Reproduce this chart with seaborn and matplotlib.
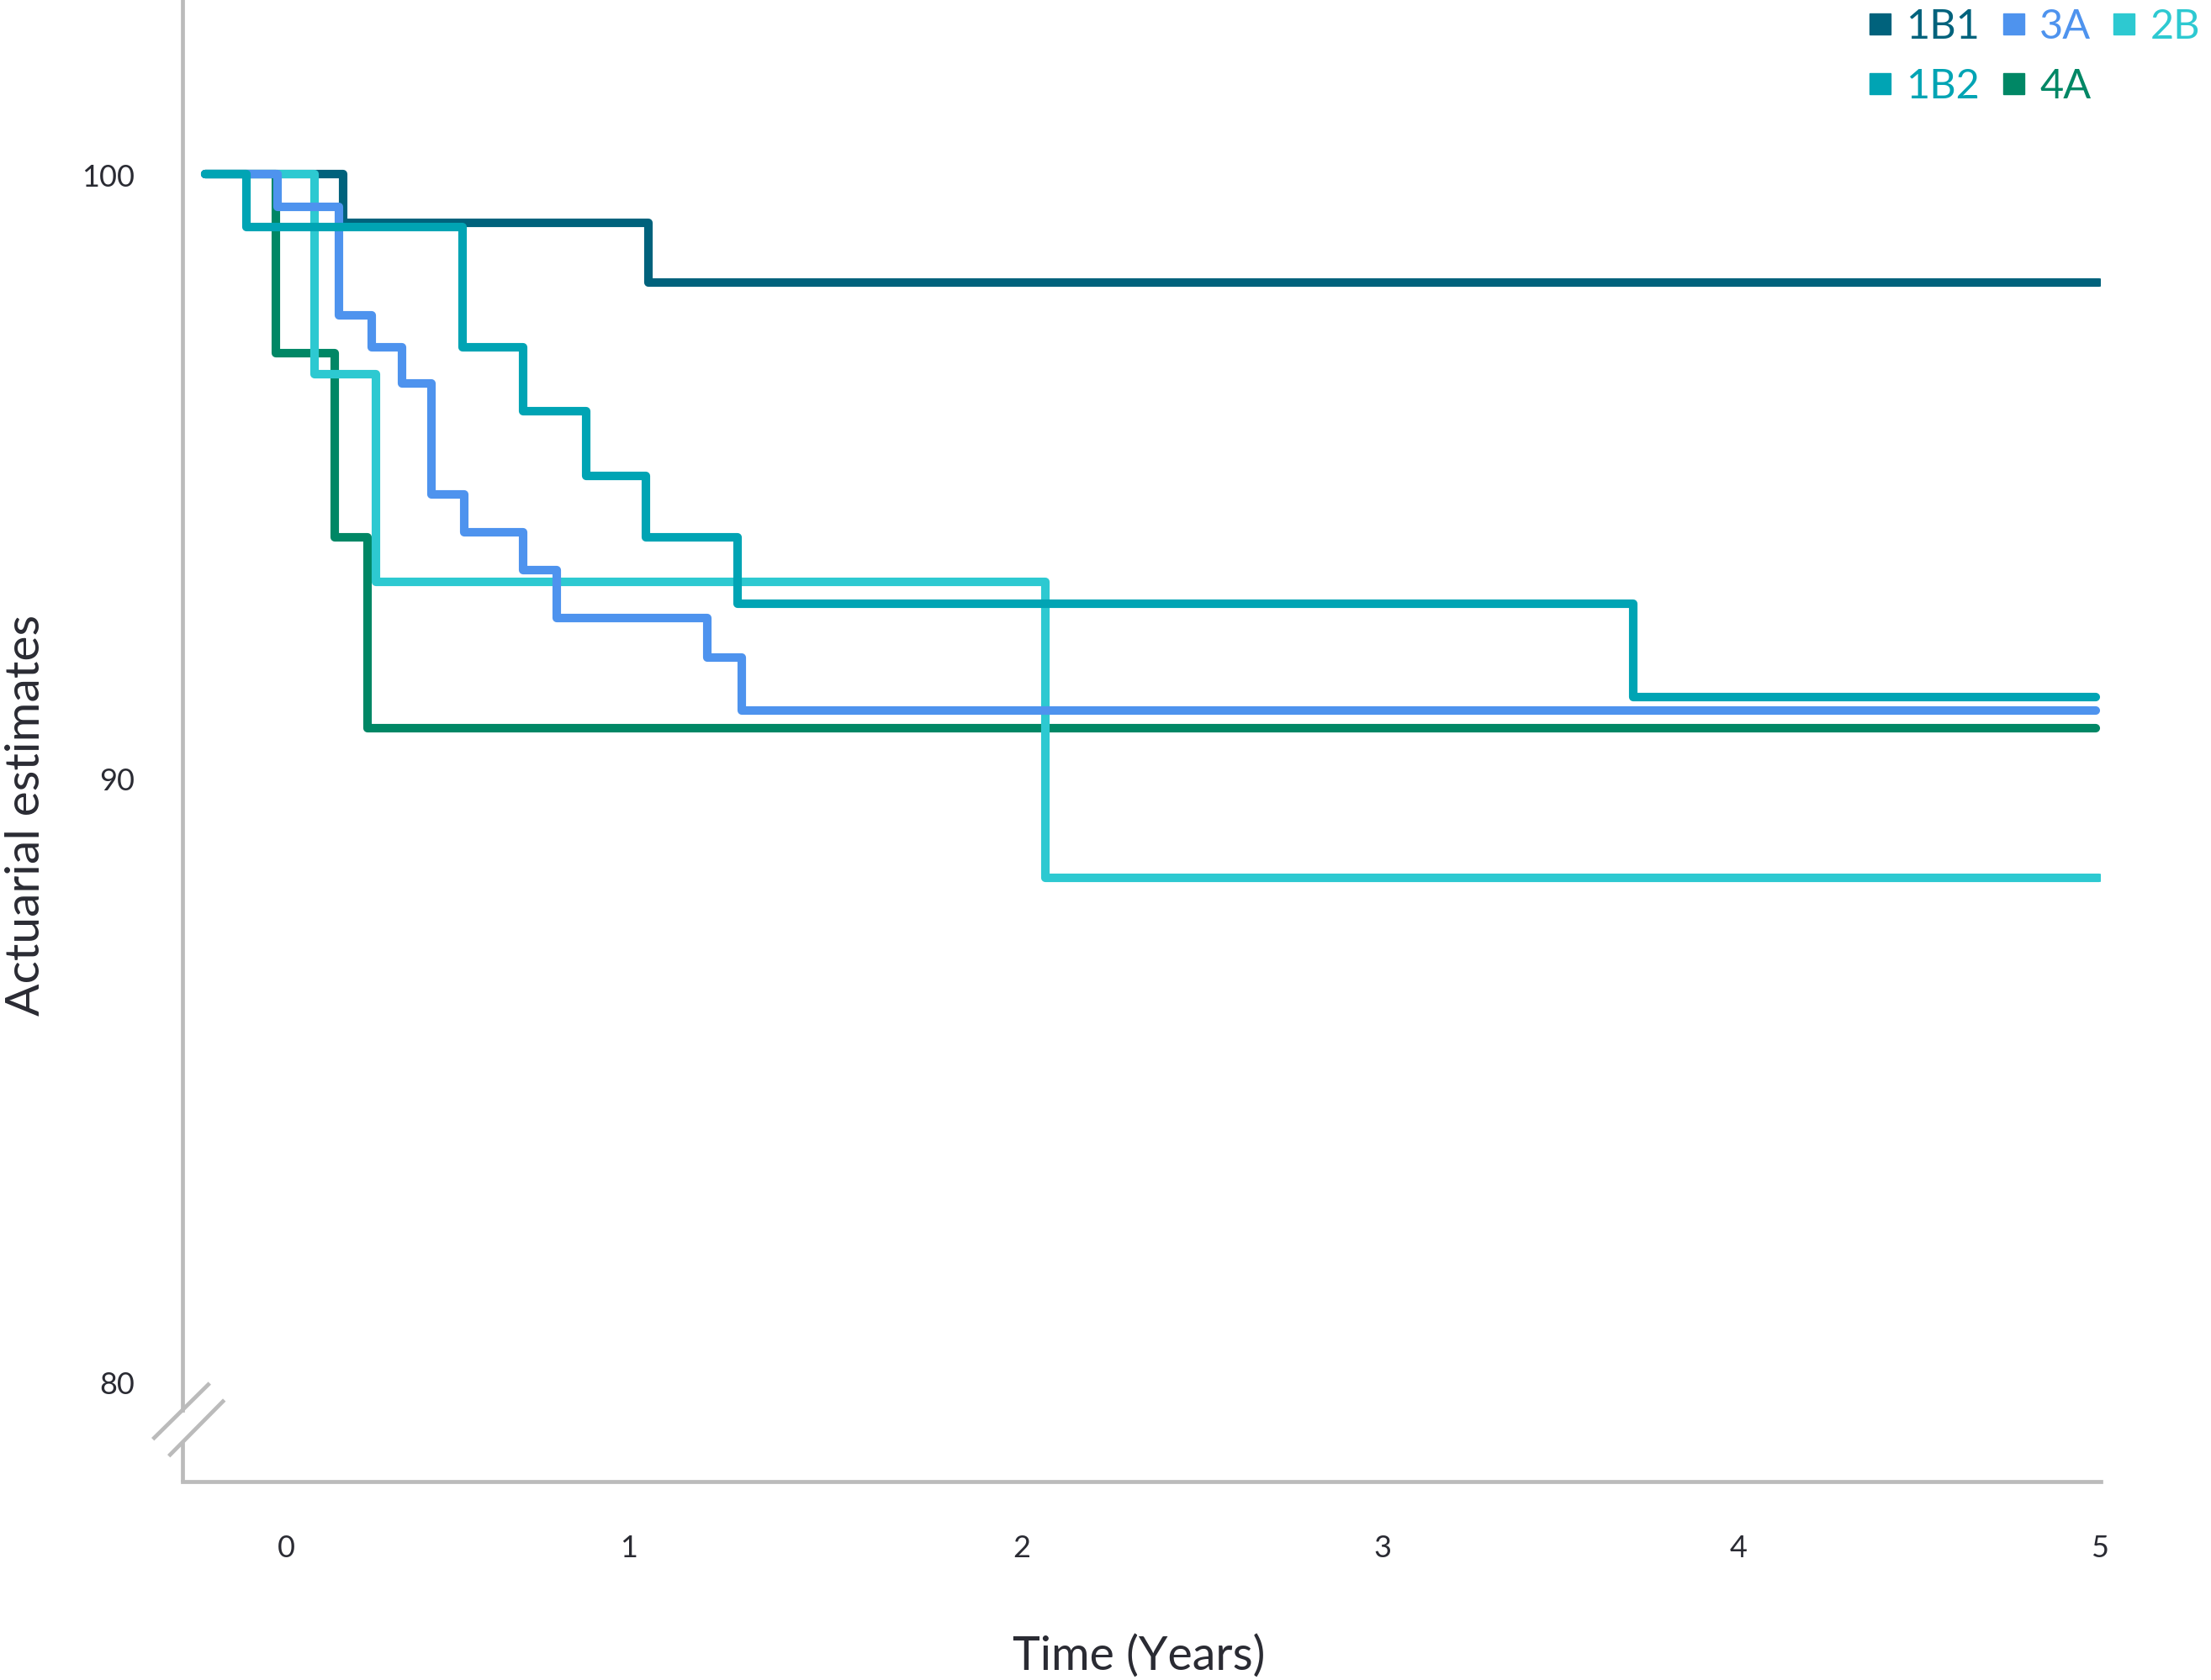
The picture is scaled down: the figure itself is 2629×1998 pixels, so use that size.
import numpy as np
import pandas as pd
import matplotlib.pyplot as plt
import seaborn as sns
from matplotlib.lines import Line2D

# Step curves (time in years, estimate in %)
t_1b1 = [-0.223, 0.158, 1.0, 5.0]
v_1b1 = [100, 99.19, 98.21, 98.21]

t_1b2 = [-0.223, -0.11, 0.488, 0.655, 0.828, 0.993, 1.245, 3.714, 4.99]
v_1b2 = [100, 99.13, 97.14, 96.08, 95.01, 93.99, 92.89, 91.34, 91.34]

t_3a = [-0.223, -0.023, 0.147, 0.237, 0.321, 0.40, 0.491, 0.655, 0.746, 1.161, 1.256, 4.99]
v_3a = [100, 99.46, 97.66, 97.14, 96.53, 94.69, 94.07, 93.44, 92.65, 92.0, 91.12, 91.12]

t_4a = [-0.223, -0.029, 0.135, 0.226, 4.99]
v_4a = [100, 97.04, 93.98, 90.83, 90.83]

t_2b = [-0.223, 0.079, 0.247, 2.093, 5.0]
v_2b = [100, 96.69, 93.25, 88.35, 88.35]

stage_names = ['1B1', '1B2', '3A', '4A', '2B']
stage_colors = ['#00627C', '#00A4B4', '#4E93EE', '#008765', '#2DC9D1']

x_ticks = [0, 0.944, 2.029, 3.024, 4.005, 5.0]
x_ticklabels = ['0', '1', '2', '3', '4', '5']
y_ticks = [80, 90, 100]

frames = []
for name, t, v in zip(stage_names, [t_1b1, t_1b2, t_3a, t_4a, t_2b],
                      [v_1b1, v_1b2, v_3a, v_4a, v_2b]):
    frames.append(pd.DataFrame({'time': t, 'estimate': v, 'stage': name}))
df = pd.concat(frames, ignore_index=True)

sns.set_style('white')
plt.rcParams['font.family'] = ['Lato', 'DejaVu Sans']

palette = dict(zip(stage_names, stage_colors))
grey = '#BBBBBB'
ink = '#2A2B33'

fig = plt.figure(figsize=(26.29, 19.99), dpi=100)
ax = fig.add_axes([0.08254, 0.1182, 0.8677, 0.8818])

sns.lineplot(data=df, x='time', y='estimate', hue='stage',
             hue_order=['4A', '1B1', '2B', '3A', '1B2'], palette=palette,
             estimator=None, sort=False, drawstyle='steps-post',
             linewidth=7.3, solid_joinstyle='round', solid_capstyle='round',
             legend=False, ax=ax)

ax.set_xlim(-0.2853, 5.0046)
ax.set_ylim(78.35, 102.90)
ax.set_xticks(x_ticks)
ax.set_xticklabels(x_ticklabels)
ax.set_yticks(y_ticks)
ax.tick_params(axis='x', length=0, pad=45, labelsize=26, labelcolor=ink)
ax.tick_params(axis='y', length=0, pad=41, labelsize=26, labelcolor=ink)

sns.despine(ax=ax)
for side in ['left', 'bottom']:
    ax.spines[side].set_color(grey)
    ax.spines[side].set_linewidth(3.4)
ax.spines['left'].set_bounds(79.53, 102.90)

# axis break
ax.plot([0, 0], [0, 0.0265], transform=ax.transAxes, color=grey,
        lw=3.4, clip_on=False, solid_capstyle='butt')
ax.plot([-0.01548, 0.01416], [0.02837, 0.06621], transform=ax.transAxes,
        color=grey, lw=3.4, clip_on=False, solid_capstyle='butt')
ax.plot([-0.00715, 0.02179], [0.01702, 0.05486], transform=ax.transAxes,
        color=grey, lw=3.4, clip_on=False, solid_capstyle='butt')

ax.set_xlabel('Time (Years)', fontsize=40, color=ink, va='center', fontweight='normal')
ax.xaxis.set_label_coords(0.4985, -0.1176)
ax.set_ylabel('Actuarial estimates', fontsize=41, color=ink, va='center', fontweight='normal')
ax.yaxis.set_label_coords(-0.0815, 0.4503)

handles = [Line2D([], [], marker='s', linestyle='', color=palette[n], markersize=18)
           for n in stage_names]
fig.legend(handles, stage_names, loc='upper left', bbox_to_anchor=(0.8456, 0.995),
           ncol=3, frameon=False, borderpad=0, borderaxespad=0,
           handlelength=0.5, handletextpad=0.4, columnspacing=0.55,
           labelspacing=0.55, fontsize=35, labelcolor=[palette[n] for n in stage_names])

fig.savefig('out.png', dpi=100)
